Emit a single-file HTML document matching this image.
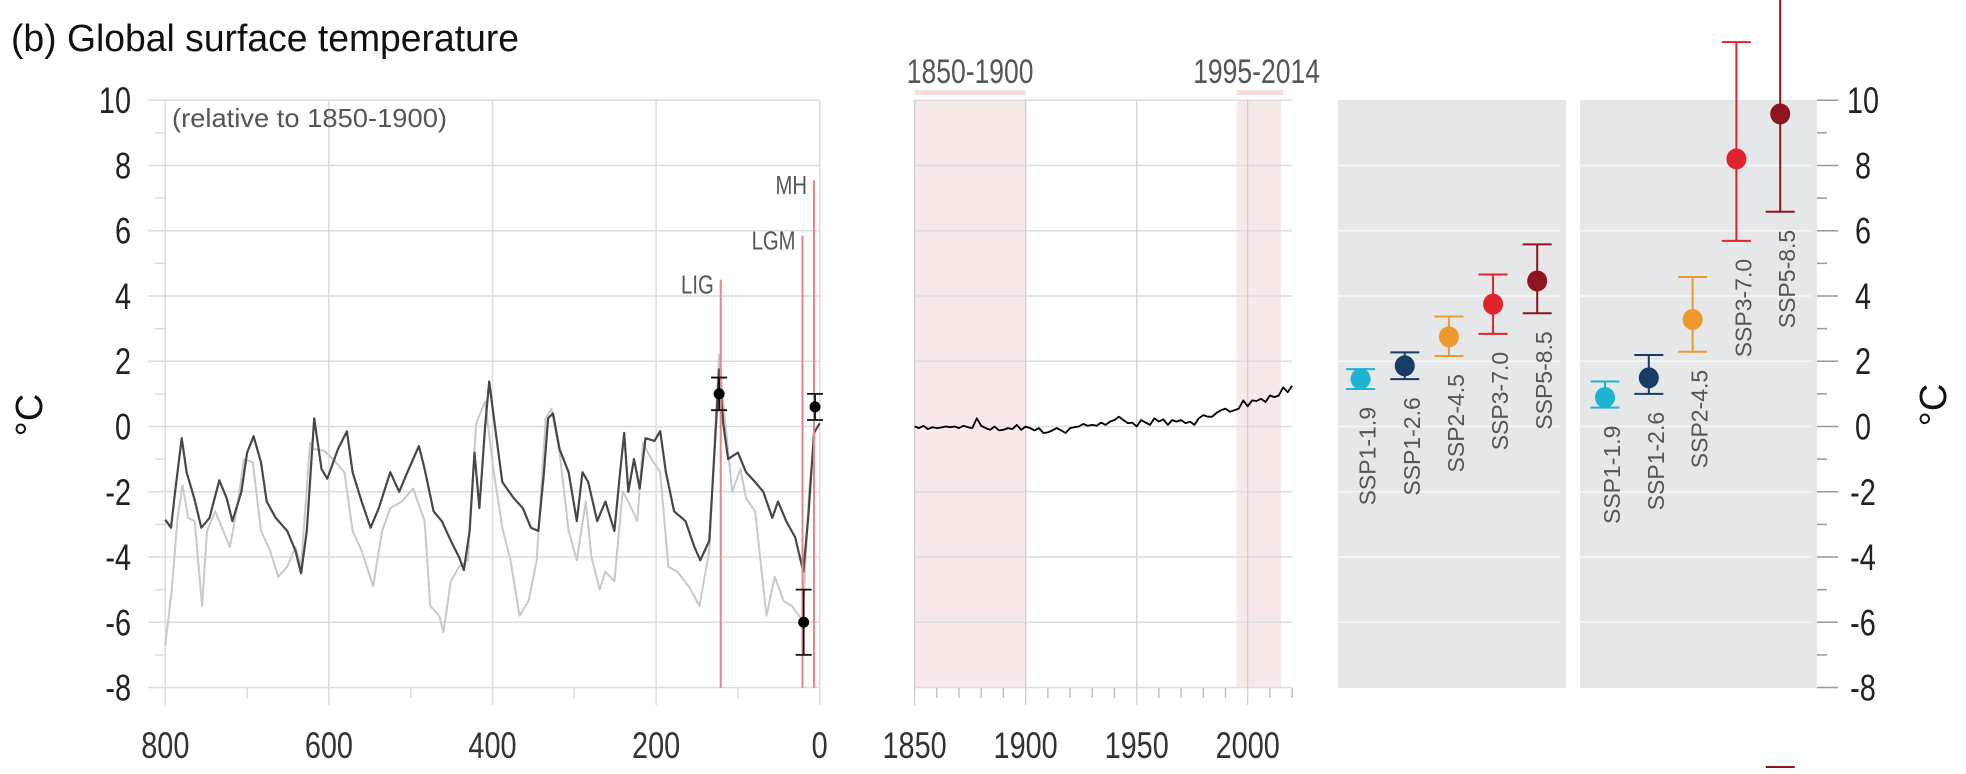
<!DOCTYPE html>
<html><head><meta charset="utf-8"><style>
html,body{margin:0;padding:0;background:#fff;}
svg{display:block;font-family:"Liberation Sans",sans-serif;}
</style></head><body>
<svg id="chart" width="1966" height="774" viewBox="0 0 1966 774" xmlns="http://www.w3.org/2000/svg">
<text x="11" y="51" font-size="38" textLength="508" lengthAdjust="spacingAndGlyphs" fill="#111">(b) Global surface temperature</text>
<g id="left"></g>
<g id="mid"></g>
<g id="right"></g>
</svg>
<script>
// ---- paleo data (ka before present, °C) ----
const darkKa = [800,793,788,780,774,764,756,746,734,725,718,707,700,692,683,676,665,651,641,634,627,618,609,602,589,578,571,560,549,539,525,514,504,490,483,472,462,451,441,435,428,422,416,409,404,397,388,374,363,353,344,337,332,326,318,307,297,290,283,272,262,251,244,239,234,227,220,213,202,195,188,178,164,153,146,135,128,123,118,112,100,90,79,69,58,51,41,30,20,14,7,0];
const darkVal = [-2.86,-3.1,-2.0,-0.36,-1.4,-2.25,-3.1,-2.8,-1.65,-2.2,-2.9,-2.0,-0.8,-0.3,-1.1,-2.3,-2.8,-3.2,-3.8,-4.5,-3.2,0.25,-1.3,-1.6,-0.7,-0.15,-1.4,-2.3,-3.1,-2.5,-1.4,-2.0,-1.4,-0.6,-1.3,-2.6,-2.9,-3.5,-4.0,-4.4,-3.2,-0.8,-2.5,0,1.38,0,-1.7,-2.2,-2.5,-3.1,-3.2,-1.4,0.25,0.4,-0.7,-1.4,-2.9,-1.4,-1.7,-2.9,-2.3,-3.2,-1.4,-0.2,-2.0,-1.0,-1.9,-0.36,-0.44,-0.14,-1.4,-2.6,-2.9,-3.7,-4.1,-3.5,-0.5,1.75,0.1,-1.0,-0.8,-1.4,-1.7,-2.0,-2.8,-2.3,-2.9,-3.4,-4.45,-2.8,-0.2,0.1];
const lightKa = [800,792,785,779,772,764,755,749,739,721,711,704,693,683,672,662,651,641,634,623,618,606,595,581,571,560,546,535,525,511,497,483,476,465,460,451,441,430,420,409,399,388,378,367,356,346,335,328,318,307,297,286,279,269,262,251,241,234,223,216,206,195,185,174,160,147,135,128,123,116,107,97,90,79,65,55,44,34,21,13,6];
const lightVal = [-6.7,-5.0,-2.8,-1.8,-2.8,-2.9,-5.5,-3.2,-2.6,-3.7,-2.3,-1.0,-1.1,-3.2,-3.8,-4.6,-4.3,-3.7,-4.3,-0.5,-0.7,-0.74,-1.0,-1.4,-3.2,-3.8,-4.9,-3.2,-2.5,-2.3,-1.9,-2.9,-5.5,-5.8,-6.3,-4.75,-4.3,-4.1,0.1,0.77,-1.3,-3.1,-4.1,-5.8,-5.35,-4.1,0.25,0.55,-0.8,-3.2,-4.1,-2.3,-4.0,-5.0,-4.45,-4.75,-2.0,-2.3,-2.9,-0.5,-1.0,-1.4,-4.3,-4.45,-4.9,-5.5,-3.8,-0.2,2.2,0.25,-2.0,-1.3,-2.2,-2.6,-5.8,-4.6,-5.35,-5.5,-5.95,-2.0,-0.2];
const paleoNames = ["LIG","LGM","MH"];
const paleoLineKa = [121,21,7];
const paleoLineTop = [4.5,5.85,7.55];
const paleoPtKa = [123,19.6,5.7];
const paleoPtVal = [1.0,-6.0,0.6];
const paleoPtLo = [0.5,-7.0,0.2];
const paleoPtHi = [1.5,-5.0,1.0];
const paleoTicks = [800,600,400,200,0];
const yTicks = [10,8,6,4,2,0,-2,-4,-6,-8];
// ---- historical ----
const histYears = [];for(let y=1850;y<=2020;y+=2)histYears.push(y);
const histVal = [0.0,-0.05,0.02,-0.08,-0.02,-0.05,-0.03,0.0,-0.02,0.0,-0.05,0.02,-0.02,-0.05,0.25,0.02,-0.05,-0.1,0.0,-0.12,-0.1,-0.05,-0.08,0.05,-0.1,0.0,-0.05,-0.12,-0.05,-0.2,-0.18,-0.12,-0.05,-0.12,-0.2,-0.05,-0.02,0.0,0.08,0.02,0.05,0.02,0.12,0.05,0.15,0.2,0.3,0.2,0.1,0.12,0.0,0.2,0.12,0.05,0.25,0.15,0.22,0.05,0.2,0.15,0.2,0.1,0.15,0.05,0.25,0.35,0.3,0.3,0.42,0.5,0.55,0.45,0.5,0.55,0.8,0.62,0.8,0.78,0.85,0.75,0.95,0.9,0.95,1.2,1.05,1.25];
const histTicks = [1850,1900,1950,2000];
// ---- projections ----
const sspNames = ["SSP1-1.9","SSP1-2.6","SSP2-4.5","SSP3-7.0","SSP5-8.5"];
const sspColors = ["#1db3d3","#173c66","#ec9a30","#e0242e","#8e1420"];
const midVal = [1.46,1.86,2.75,3.75,4.46];
const midLo = [1.15,1.45,2.16,2.84,3.47];
const midHi = [1.76,2.27,3.37,4.66,5.58];
const endVal = [0.89,1.49,3.28,8.2,9.58];
const endLo = [0.58,1.0,2.29,5.69,6.58];
const endHi = [1.38,2.19,4.58,11.78,14.5];

const NS="http://www.w3.org/2000/svg";
function mk(parent,tag,attrs,text){const e=document.createElementNS(NS,tag);for(const k in attrs)e.setAttribute(k,attrs[k]);if(text!==undefined)e.textContent=text;parent.appendChild(e);return e;}
const yv=v=>426.5-v*32.63;
const xl=ka=>819.7-ka*0.818;
const xm=yr=>914.6+(yr-1850)*2.2207;
const GRID="#dcdcdc";

function narrowText(parent,x,y,str,size,anchor,fill,name){
  const t=mk(parent,'text',{transform:`translate(${x},${y}) scale(0.78,1)`,'font-size':size,'text-anchor':anchor,fill:fill},str);
  
  
  return t;
}

// ===== Left panel =====
const L=document.getElementById('left');
for(let v=-8;v<=10;v++){
  if(v%2===0){
    const g=mk(L,'line',{x1:148,x2:820,y1:yv(v),y2:yv(v),stroke:GRID,'stroke-width':1.5});
    
    
  } else {
    const g=mk(L,'line',{x1:155,x2:165,y1:yv(v),y2:yv(v),stroke:GRID,'stroke-width':1.5});
    
    
  }
}
yTicks.forEach(v=>{narrowText(L,131,yv(v)+13,String(v),37,'end','#222','paleo-y-tick-label');});
for(let ka=800;ka>=0;ka-=100){
  const major=ka%200===0;
  const g=mk(L,'line',{x1:xl(ka),x2:xl(ka),y1:major?100:688,y2:major?705:698,stroke:GRID,'stroke-width':1.5});
  
  
}
paleoTicks.forEach(ka=>{narrowText(L,xl(ka),758,String(ka),37,'middle','#333','paleo-x-tick-label');});
const yl=mk(L,'text',{transform:'translate(42,415) rotate(-90)','font-size':38,'text-anchor':'middle',fill:'#111'},'°C');


const rel=mk(L,'text',{x:172,y:127,'font-size':26,textLength:275,lengthAdjust:'spacingAndGlyphs',fill:'#555'},'(relative to 1850-1900)');


function pathOf(xs,ys,fx){return xs.map((x,i)=>(i?'L':'M')+fx(x).toFixed(1)+' '+yv(ys[i]).toFixed(1)).join(' ');}
const lp=mk(L,'path',{d:pathOf(lightKa,lightVal,xl),fill:'none',stroke:'#c9c9c9','stroke-width':2,'stroke-linejoin':'round'});


const dp=mk(L,'path',{d:pathOf(darkKa,darkVal,xl),fill:'none',stroke:'#474747','stroke-width':2.2,'stroke-linejoin':'round'});


paleoNames.forEach((n,i)=>{
  const ln=mk(L,'line',{x1:xl(paleoLineKa[i]),x2:xl(paleoLineKa[i]),y1:yv(paleoLineTop[i]),y2:688,stroke:'#e98585','stroke-width':2});
  
  
  narrowText(L,xl(paleoLineKa[i])-7,yv(paleoLineTop[i])+14,n,26,'end','#555','paleo-period-label-'+n.toLowerCase());
});
paleoPtKa.forEach((ka,i)=>{
  const x=xl(ka);
  const e=mk(L,'path',{d:`M${x} ${yv(paleoPtLo[i])}V${yv(paleoPtHi[i])}M${x-8} ${yv(paleoPtLo[i])}h16M${x-8} ${yv(paleoPtHi[i])}h16`,stroke:'#111','stroke-width':1.8,fill:'none'});
  
  
  const c=mk(L,'circle',{cx:x,cy:yv(paleoPtVal[i]),r:5.5,fill:'#000'});
  
  
});

// ===== Middle panel =====
const M=document.getElementById('mid');
const s1=mk(M,'rect',{x:xm(1850),y:100,width:xm(1900)-xm(1850),height:588,fill:'#f8e9e9'});


const s2=mk(M,'rect',{x:xm(1995),y:100,width:xm(2015)-xm(1995),height:588,fill:'#f8e9e9'});


const b1=mk(M,'rect',{x:xm(1850),y:90,width:xm(1900)-xm(1850),height:5,fill:'#f6dcdc'});


const b2=mk(M,'rect',{x:xm(1995),y:90,width:xm(2016)-xm(1995),height:5,fill:'#f6dcdc'});


narrowText(M,xm(1875),83,'1850-1900',34,'middle','#555','baseline-period-label');
narrowText(M,xm(2004),83,'1995-2014',34,'middle','#555','recent-period-label');
for(let v=-8;v<=10;v+=2){
  const g=mk(M,'line',{x1:xm(1850),x2:xm(2020),y1:yv(v),y2:yv(v),stroke:GRID,'stroke-width':1.5});
  
  
}
for(let yr=1850;yr<=2020;yr+=10){
  const major=yr%50===0;
  const g=mk(M,'line',{x1:xm(yr),x2:xm(yr),y1:major?100:688,y2:major?705:698,stroke:major?'#cfcfcf':'#bbb','stroke-width':1.3});
  
  
}
const rb=mk(M,'line',{x1:xm(2020),x2:xm(2020),y1:688,y2:698,stroke:'#bbb','stroke-width':1.3});


histTicks.forEach(yr=>{narrowText(M,xm(yr),758,String(yr),37,'middle','#333','hist-x-tick-label');});
const hp=mk(M,'path',{d:pathOf(histYears,histVal,xm),fill:'none',stroke:'#000','stroke-width':1.8,'stroke-linejoin':'round'});



// ===== Right panels =====
const R=document.getElementById('right');
[[1338,1566,'mid-term-panel'],[1580,1817,'long-term-panel']].forEach(p=>{
  const r=mk(R,'rect',{x:p[0],y:100,width:p[1]-p[0],height:588,fill:'#e6e7e8'});
  
  
  for(let v=-6;v<=8;v+=2){
    const g=mk(R,'line',{x1:p[0],x2:p[1]-6,y1:yv(v),y2:yv(v),stroke:'#f7f7f7','stroke-width':1.5});
    
    
  }
});
for(let v=-8;v<=10;v++){
  const major=v%2===0;
  const t=mk(R,'line',{x1:1817,x2:major?1838:1827,y1:yv(v),y2:yv(v),stroke:'#999','stroke-width':1.5});
  
  
}
yTicks.forEach(v=>{narrowText(R,1863,yv(v)+13,String(v),37,'middle','#222','right-y-tick-label');});
const yr2=mk(R,'text',{transform:'translate(1946,405) rotate(-90)','font-size':38,'text-anchor':'middle',fill:'#111'},'°C');


function drawSsp(x0,dx,vals,lo,hi,prefix){
  sspNames.forEach((n,i)=>{
    const x=x0+i*dx,c=sspColors[i];
    const top=Math.max(yv(hi[i]),-5);
    const e=mk(R,'path',{d:`M${x} ${yv(lo[i])}V${top}M${x-14.5} ${yv(lo[i])}h29M${x-14.5} ${yv(hi[i])}h29`,stroke:c,'stroke-width':2,fill:'none'});
    
    
    const d=mk(R,'ellipse',{cx:x,cy:yv(vals[i]),rx:10,ry:10.5,fill:c});
    
    
    const t=mk(R,'text',{transform:`translate(${x+15},${yv(lo[i])+18}) rotate(-90)`,'font-size':23,'text-anchor':'end',fill:'#555'},n);
    
    
  });
}
drawSsp(1360.6,44.15,midVal,midLo,midHi,'mid-term');
drawSsp(1605,43.8,endVal,endLo,endHi,'long-term');
const extra=mk(R,'line',{x1:1765.8,x2:1794.8,y1:767,y2:767,stroke:'#8e1420','stroke-width':2});


</script>
</body></html>
